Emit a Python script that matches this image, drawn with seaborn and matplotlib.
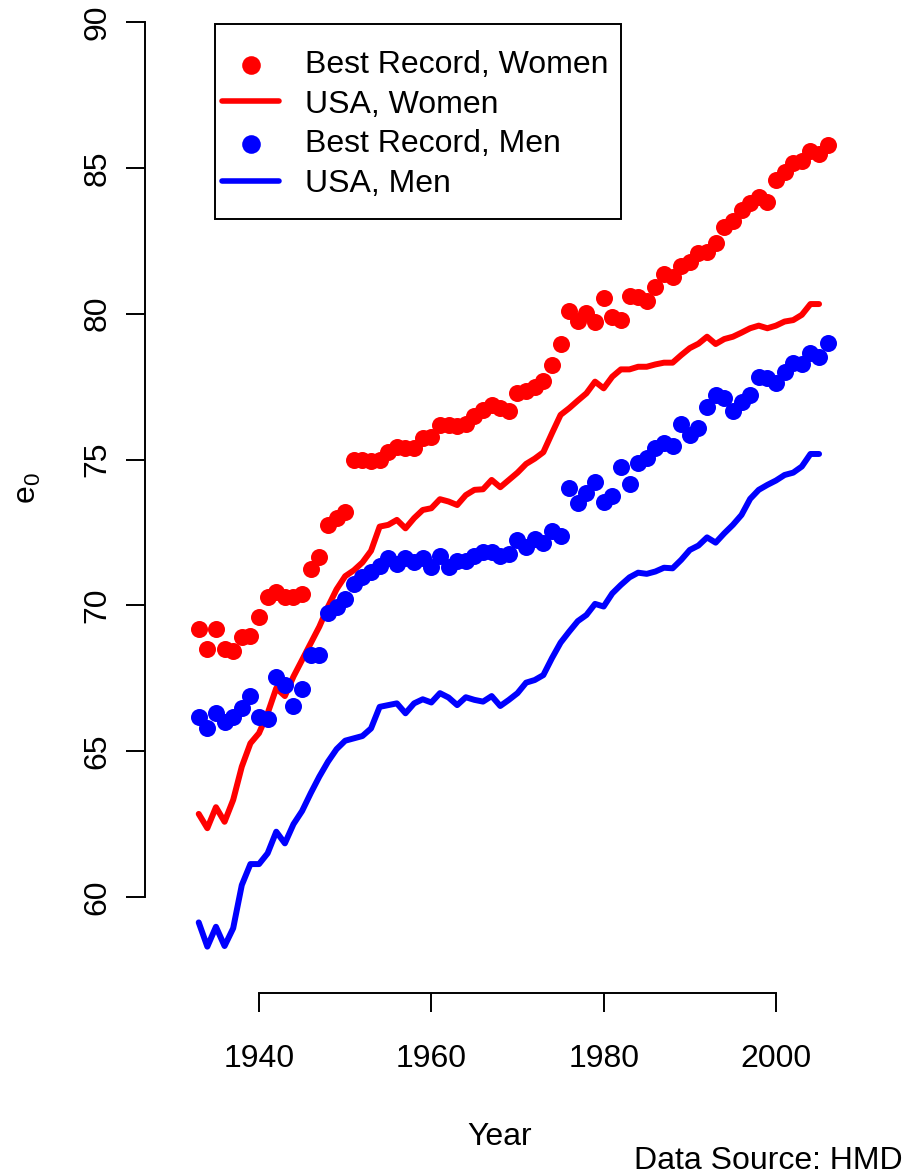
import numpy as np
import pandas as pd
import matplotlib
matplotlib.use("Agg")
import matplotlib.pyplot as plt
from matplotlib.patches import Rectangle
import seaborn as sns

# ---------------- data ----------------
years_best = list(range(1933, 2007))
years_usa = list(range(1933, 2006))

best_women = [69.2, 68.5, 69.2, 68.5, 68.45, 68.9, 68.95, 69.6, 70.3, 70.45,
              70.3, 70.3, 70.4, 71.25, 71.65, 72.75, 73.0, 73.2, 75.0, 74.97,
              74.95, 75.0, 75.27, 75.44, 75.41, 75.38, 75.73, 75.78, 76.18, 76.18,
              76.15, 76.22, 76.49, 76.7, 76.87, 76.76, 76.67, 77.27, 77.35, 77.5,
              77.7, 78.23, 78.96, 80.09, 79.75, 80.03, 79.7, 80.53, 79.88, 79.78,
              80.62, 80.56, 80.44, 80.9, 81.36, 81.25, 81.65, 81.76, 82.07, 82.13,
              82.43, 82.96, 83.19, 83.55, 83.78, 83.99, 83.84, 84.58, 84.87, 85.18,
              85.25, 85.59, 85.47, 85.78]

best_men = [66.18, 65.79, 66.32, 66.01, 66.16, 66.47, 66.9, 66.18, 66.09, 67.56,
            67.27, 66.55, 67.12, 68.3, 68.3, 69.73, 69.93, 70.22, 70.73, 70.96,
            71.16, 71.36, 71.61, 71.42, 71.61, 71.48, 71.61, 71.3, 71.7, 71.3,
            71.53, 71.53, 71.7, 71.84, 71.84, 71.7, 71.76, 72.24, 71.99, 72.26,
            72.13, 72.56, 72.38, 74.01, 73.5, 73.86, 74.24, 73.56, 73.76, 74.76,
            74.16, 74.89, 75.04, 75.41, 75.57, 75.47, 76.22, 75.84, 76.09, 76.81,
            77.21, 77.1, 76.67, 76.98, 77.21, 77.84, 77.78, 77.61, 78.01, 78.32,
            78.26, 78.64, 78.53, 78.98]

usa_women = [62.85, 62.36, 63.08, 62.58, 63.33, 64.47, 65.27, 65.62, 66.3, 67.16,
             66.89, 67.56, 68.13, 68.7, 69.27, 69.95, 70.55, 71.0, 71.2, 71.47,
             71.87, 72.7, 72.76, 72.93, 72.64, 72.99, 73.27, 73.33, 73.64, 73.56,
             73.44, 73.78, 73.96, 73.98, 74.3, 74.05, 74.3, 74.55, 74.85, 75.03,
             75.25, 75.9, 76.53, 76.76, 77.02, 77.27, 77.67, 77.44, 77.84, 78.09,
             78.09, 78.18, 78.18, 78.26, 78.32, 78.32, 78.58, 78.82, 78.97, 79.21,
             78.96, 79.13, 79.21, 79.35, 79.5, 79.59, 79.5, 79.59, 79.73, 79.78,
             79.96, 80.33, 80.33]

usa_men = [59.13, 58.3, 58.98, 58.32, 58.93, 60.41, 61.13, 61.13, 61.5, 62.24,
           61.84, 62.5, 62.95, 63.56, 64.13, 64.64, 65.07, 65.36, 65.44, 65.52,
           65.78, 66.52, 66.58, 66.64, 66.3, 66.64, 66.78, 66.67, 66.99, 66.84,
           66.58, 66.85, 66.76, 66.7, 66.89, 66.55, 66.76, 66.99, 67.35, 67.44,
           67.61, 68.19, 68.72, 69.1, 69.46, 69.67, 70.05, 69.96, 70.41, 70.7,
           70.96, 71.12, 71.08, 71.16, 71.29, 71.27, 71.56, 71.9, 72.05, 72.33,
           72.15, 72.47, 72.76, 73.1, 73.65, 73.96, 74.13, 74.28, 74.47, 74.55,
           74.76, 75.19, 75.19]

x_ticks = [1940, 1960, 1980, 2000]
y_ticks = [60, 65, 70, 75, 80, 85, 90]
labels = ["Best Record, Women", "USA, Women", "Best Record, Men", "USA, Men"]

# ---------------- style ----------------
sns.set_style("white")
plt.rcParams["font.family"] = ["Liberation Sans", "DejaVu Sans"]
plt.rcParams["mathtext.fontset"] = "custom"
plt.rcParams["mathtext.rm"] = "Liberation Sans"
for k in ["text.color", "axes.labelcolor", "xtick.color", "ytick.color",
          "xtick.labelcolor", "ytick.labelcolor"]:
    plt.rcParams[k] = "black"
FS = 23

W, H = 906, 1176
fig = plt.figure(figsize=(W / 100, H / 100), dpi=100)
fig.patch.set_facecolor("white")

left_px, right_px, bottom_px = 145.3, 889.7, 993
ax = fig.add_axes([left_px / W, (H - bottom_px) / H, (right_px - left_px) / W, bottom_px / H])
ax.set_facecolor("white")

RED, BLUE = "#FF0000", "#0000FF"

sns.scatterplot(x=years_best, y=best_women, ax=ax, color=RED, s=150, linewidth=0,
                label=labels[0], zorder=3)
sns.lineplot(x=years_usa, y=usa_women, ax=ax, color=RED, linewidth=4.3,
             label=labels[1], zorder=2)
sns.scatterplot(x=years_best, y=best_men, ax=ax, color=BLUE, s=150, linewidth=0,
                label=labels[2], zorder=3)
sns.lineplot(x=years_usa, y=usa_men, ax=ax, color=BLUE, linewidth=4.3,
             label=labels[3], zorder=2)

ax.set_xlim(1926.8, 2013.2)
ax.set_ylim(56.71, 90.754)
ax.set_xlabel("")
ax.set_ylabel("")

for s in ["top", "right"]:
    ax.spines[s].set_visible(False)
for s in ["left", "bottom"]:
    ax.spines[s].set_color("black")
    ax.spines[s].set_linewidth(1.4)
ax.spines["left"].set_bounds(60, 90)
ax.spines["bottom"].set_bounds(1940, 2000)

ax.set_xticks(x_ticks)
ax.set_yticks(y_ticks)
ax.set_xticklabels([str(v) for v in x_ticks], fontsize=FS, color="black")
ax.set_yticklabels([str(v) for v in y_ticks], fontsize=FS, rotation=90, va="center",
                   color="black")
ax.tick_params(axis="both", direction="out", length=13.5, width=1.4, color="black",
               labelcolor="black")
ax.tick_params(axis="x", pad=23, bottom=True)
ax.tick_params(axis="y", pad=10, left=True)

handles, labs = ax.get_legend_handles_labels()
leg = ax.legend(handles, labs, loc="upper left",
                bbox_to_anchor=(222 / W, 1 - 50 / H), bbox_transform=fig.transFigure,
                frameon=False, fontsize=FS, borderpad=0, borderaxespad=0,
                handlelength=1.79, handletextpad=0.82, labelspacing=0.30,
                labelcolor="black")
for h in leg.legend_handles:
    if hasattr(h, "set_sizes"):
        h.set_sizes([180])
    if hasattr(h, "set_linewidth") and not hasattr(h, "set_sizes"):
        h.set_linewidth(4.0)

fig.patches.append(Rectangle((215 / W, 1 - 219 / H), 406 / W, 195 / H,
                             transform=fig.transFigure, fill=False,
                             edgecolor="black", linewidth=1.4))

fig.text(28 / W, 1 - 488 / H, r"$\mathregular{e_0}$", rotation=90, ha="center",
         va="center", fontsize=FS, color="black")
fig.text(500 / W, 1 - 1137 / H, "Year", ha="center", va="center", fontsize=FS,
         color="black")
fig.text(903 / W, 1 - 1161 / H, "Data Source: HMD", ha="right", va="center",
         fontsize=FS, color="black")

fig.savefig("out.png", dpi=100, facecolor="white")
